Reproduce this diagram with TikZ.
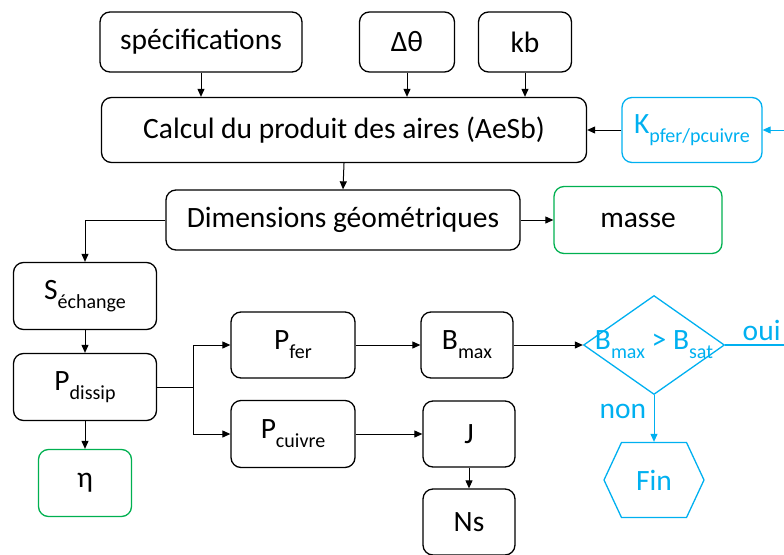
\documentclass[tikz,border=0pt]{standalone}
\usepackage{fontspec}
\setmainfont{Carlito}
\usetikzlibrary{arrows.meta,shapes.geometric,shapes.symbols}

\definecolor{bleu}{RGB}{0,176,240}
\definecolor{vert}{RGB}{0,176,80}

\newcommand{\indice}[1]{\raisebox{-0.3em}{\fontsize{20}{22}\selectfont #1}}

\tikzset{
  bloc/.style={draw=black, line width=1.3pt, rounded corners=10pt, align=center, inner sep=0pt},
  blocvert/.style={bloc, draw=vert},
  blocbleu/.style={bloc, draw=bleu, text=bleu},
  fleche/.style={line width=1pt, -{Triangle[length=8pt,width=7pt]}},
  fleche bleu/.style={fleche, draw=bleu, -{Triangle[length=8pt,width=7pt]}, bleu},
}

\begin{document}
\begin{tikzpicture}[x=1pt,y=-1pt,font=\fontsize{29.5}{34}\selectfont]

\useasboundingbox (0,0) rectangle (784,554);

\node[bloc, minimum width=202, minimum height=60] (spec) at (201,42) {spécifications};
\node[bloc, minimum width=95, minimum height=60] (dtheta) at (407,42) {Δθ};
\node[bloc, minimum width=93, minimum height=60] (kb) at (525,42) {kb};
\node[bloc, minimum width=485, minimum height=65] (calc) at (344,130) {Calcul du produit des aires (AeSb)};
\node[blocbleu, minimum width=140, minimum height=65] (K) at (692,130) {K\indice{pfer/pcuivre}};
\node[bloc, minimum width=354, minimum height=60] (dims) at (343,220) {Dimensions géométriques};
\node[blocvert, minimum width=168, minimum height=67] (masse) at (638,220) {masse};
\node[bloc, minimum width=143, minimum height=67] (sech) at (85,296) {S\indice{échange}};
\node[bloc, minimum width=143, minimum height=67] (pdis) at (85,387) {P\indice{dissip}};
\node[blocvert, minimum width=93, minimum height=67] (eta) at (85,483) {η};
\node[bloc, minimum width=124, minimum height=66] (pfer) at (293,345) {P\indice{fer}};
\node[bloc, minimum width=124, minimum height=67] (pcu) at (293,434) {P\indice{cuivre}};
\node[bloc, minimum width=92, minimum height=66] (bmax) at (467,345) {B\indice{max}};
\node[bloc, minimum width=92, minimum height=66] (J) at (469,434) {J};
\node[bloc, minimum width=92, minimum height=66] (Ns) at (469,522) {Ns};

\node[diamond, draw=bleu, line width=1.3pt, minimum width=141, minimum height=99, inner sep=0pt,
  label={[text=bleu]center:B\indice{max} > B\indice{sat}}] (test) at (654,345) {};
\node[signal, signal to=west and east, signal pointer angle=130, draw=bleu, text=bleu, line width=1.3pt,
  minimum width=100, minimum height=75, inner sep=0pt] (fin) at (654,480) {Fin};

\coordinate (entree) at (784,130);
\coordinate (sortie) at (784,345);
\coordinate (split) at (193,387);

\draw[fleche] (spec.south) -- (spec.south |- calc.north);
\draw[fleche] (dtheta.south) -- (dtheta.south |- calc.north);
\draw[fleche] (kb.south) -- (kb.south |- calc.north);
\draw[fleche] (K.west) -- (calc.east);
\draw[fleche bleu] (entree) -- (K.east);
\draw[fleche] (calc.south) -- (dims.north);
\draw[fleche] (dims.east) -- (masse.west);
\draw[fleche] (dims.west) -| (sech.north);
\draw[fleche] (sech.south) -- (pdis.north);
\draw[fleche] (pdis.south) -- (eta.north);
\draw[line width=1pt] (pdis.east) -- (split);
\draw[fleche] (split) |- (pfer.west);
\draw[fleche] (split) |- (pcu.west);
\draw[fleche] (pfer.east) -- (bmax.west);
\draw[fleche] (pcu.east) -- (J.west);
\draw[fleche] (J.south) -- (Ns.north);
\draw[fleche] (bmax.east) -- (test.west);
\draw[fleche bleu] (test.south) -- node[left=4pt, text=bleu, pos=0.35] {non} (fin.north);
\draw[draw=bleu, line width=1.3pt] (test.east) -- node[above=0pt, text=bleu, pos=0.62] {oui} (sortie);

\end{tikzpicture}
\end{document}
